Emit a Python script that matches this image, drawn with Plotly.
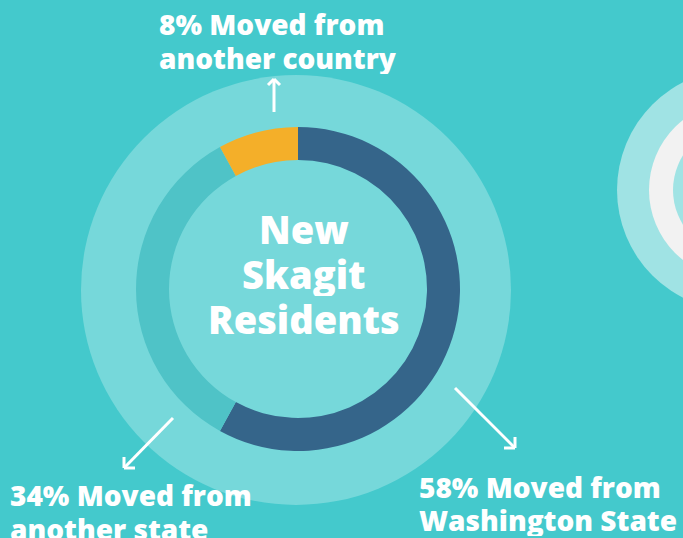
import plotly.graph_objects as go

# ---- data ----
labels = ["Moved from Washington State", "Moved from another state", "Moved from another country"]
values = [58, 34, 8]
slice_colors = ["#35658A", "#4FC3C7", "#F4AF29"]
center_title = ["New", "Skagit", "Residents"]
country_label = ["8% Moved from", "another country"]
state_label = ["34% Moved from", "another state"]
wa_label = ["58% Moved from", "Washington State"]

W, H = 683, 538
BG = "#44C9CC"
LIGHT = "#76D8DA"
FONT = "Open Sans"

fig = go.Figure()

# donut: center (298, 289), outer radius 162 px
cx, cy, r_out, r_in = 298, 289, 162, 129
fig.add_trace(go.Pie(
    labels=labels, values=values, sort=False, direction="clockwise", rotation=0,
    hole=r_in / r_out, textinfo="none", hoverinfo="label+percent",
    marker=dict(colors=slice_colors, line=dict(width=0)),
    domain=dict(x=[(cx - r_out) / W, (cx + r_out) / W],
                y=[(H - cy - r_out) / H, (H - cy + r_out) / H]),
    showlegend=False,
))

shapes = []
def circle(x, y, r, color):
    shapes.append(dict(type="circle", xref="x", yref="y", x0=x - r, x1=x + r,
                       y0=y - r, y1=y + r, fillcolor=color, line=dict(width=0),
                       layer="below"))

circle(296, 290, 215, LIGHT)
# decorative partial circle at right
circle(738, 190, 121, "#A0E3E4")
circle(738, 190, 89, "#F2F2F2")
circle(738, 190, 65, "#A0E3E4")

def seg(x0, y0, x1, y1):
    shapes.append(dict(type="line", xref="x", yref="y", x0=x0, y0=y0, x1=x1, y1=y1,
                       line=dict(color="white", width=3), layer="above"))

# arrows
seg(274, 112, 274, 79); seg(268, 85, 274, 79); seg(280, 85, 274, 79)
seg(173, 418, 124, 468); seg(124, 468, 135, 468); seg(124, 468, 124, 457)
seg(455, 388, 515, 448); seg(515, 448, 504, 448); seg(515, 448, 515, 437)

annotations = []
def add_lines(lines, x, ys, size, anchor, box_h):
    for t, y in zip(lines, ys):
        annotations.append(dict(x=x, y=y, text=t, xref="x", yref="y", showarrow=False,
                                xanchor=anchor, yanchor="middle", height=box_h,
                                font=dict(size=size, color="white", family=FONT, weight=800)))

add_lines(center_title, 304, [229, 274, 319], 38, "center", 44)
add_lines(country_label, 157, [23, 57], 28, "left", 33)
add_lines(state_label, 8, [494, 528], 28, "left", 33)
add_lines(wa_label, 417, [487, 520], 28, "left", 32)

fig.update_layout(
    width=W, height=H, margin=dict(l=0, r=0, t=0, b=0, pad=0),
    paper_bgcolor=BG, plot_bgcolor=BG,
    xaxis=dict(range=[0, W], visible=False, fixedrange=True),
    yaxis=dict(range=[H, 0], visible=False, fixedrange=True),
    shapes=shapes, annotations=annotations,
)
fig.write_html("out.html", config={"displayModeBar": False},
               post_script="document.body.style.margin='0';document.body.style.overflow='hidden';")
